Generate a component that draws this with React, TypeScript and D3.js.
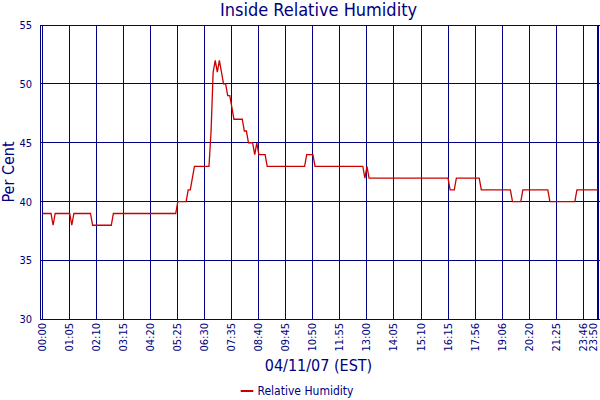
import * as d3 from "d3";

// relative humidity samples, one per logged reading (04/11/07)
const humidity: number[] = [
  39, 39, 39, 39, 39, 38, 39, 39, 39, 39, 39, 39, 39,
  39, 38, 39, 39, 39, 39, 39, 39, 39, 39, 39, 38, 38,
  38, 38, 38, 38, 38, 38, 38, 38, 39, 39, 39, 39, 39,
  39, 39, 39, 39, 39, 39, 39, 39, 39, 39, 39, 39, 39,
  39, 39, 39, 39, 39, 39, 39, 39, 39, 39, 39, 39, 39,
  40, 40, 40, 40, 40, 41, 41, 42, 43, 43, 43, 43, 43,
  43, 43, 43, 46, 51, 52, 51, 52, 51, 50, 50, 49, 49,
  48, 47, 47, 47, 47, 47, 46, 46, 45, 45, 45, 44, 45,
  44, 44, 44, 44, 43, 43, 43, 43, 43, 43, 43, 43, 43,
  43, 43, 43, 43, 43, 43, 43, 43, 43, 43, 44, 44, 44,
  44, 43, 43, 43, 43, 43, 43, 43, 43, 43, 43, 43, 43,
  43, 43, 43, 43, 43, 43, 43, 43, 43, 43, 43, 43, 42,
  43, 42, 42, 42, 42, 42, 42, 42, 42, 42, 42, 42, 42,
  42, 42, 42, 42, 42, 42, 42, 42, 42, 42, 42, 42, 42,
  42, 42, 42, 42, 42, 42, 42, 42, 42, 42, 42, 42, 42,
  42, 41, 41, 41, 42, 42, 42, 42, 42, 42, 42, 42, 42,
  42, 42, 42, 41, 41, 41, 41, 41, 41, 41, 41, 41, 41,
  41, 41, 41, 41, 41, 40, 40, 40, 40, 40, 41, 41, 41,
  41, 41, 41, 41, 41, 41, 41, 41, 41, 41, 40, 40, 40,
  40, 40, 40, 40, 40, 40, 40, 40, 40, 40, 41, 41, 41,
  41, 41, 41, 41, 41, 41, 41, 41,
];

const tickLabels = [
  "00:00", "01:05", "02:10", "03:15", "04:20", "05:25", "06:30", "07:35",
  "08:40", "09:45", "10:50", "11:55", "13:00", "14:05", "15:10", "16:15",
  "17:56", "19:06", "20:20", "21:25", "23:46", "23:50",
];
const tickIndex = [
  0, 13, 26, 39, 52, 65, 78, 91, 104, 117, 130, 143, 156, 169, 182, 195,
  208, 221, 234, 247, 260, 267,
];
const yTicks = [30, 35, 40, 45, 50, 55];

const W = 600;
const H = 400;
const NAVY = "#000080";
const RED = "#cc0000";
const FONT = "'DejaVu Sans Condensed', 'Liberation Sans', sans-serif";

// snap 1px lines onto the pixel grid
const px = (v: number) => Math.round(v) + 0.5;

export default function App() {
  const left = 40.5;
  const right = 598.5;
  const top = 25;
  const bottom = 319.5;

  const x = d3.scaleLinear().domain([0, humidity.length - 1]).range([42.7, 597.7]);
  const y = d3.scaleLinear().domain([30, 55]).range([bottom, top]);

  const line = d3
    .line<number>()
    .x((_, i) => x(i))
    .y((d) => y(d));

  return (
    <div style={{ position: "absolute", left: 0, top: 0 }}>
      <svg width={W} height={H} style={{ display: "block", background: "#fff" }}>
        <text
          x={318.5}
          y={16}
          textAnchor="middle"
          style={{ font: `18px ${FONT}`, fill: NAVY }}
        >
          Inside Relative Humidity
        </text>

        {/* grid */}
        <g shapeRendering="crispEdges" stroke={NAVY} strokeWidth={1}>
          {yTicks.map((t) => (
            <line key={"h" + t} x1={left} x2={right + 1} y1={px(y(t) - 0.5)} y2={px(y(t) - 0.5)} />
          ))}
          {tickIndex.map((t) => (
            <line key={"v" + t} x1={px(x(t) - 0.5)} x2={px(x(t) - 0.5)} y1={top} y2={bottom} />
          ))}
          <line x1={left} x2={left} y1={top} y2={bottom} />
          <line x1={right} x2={right} y1={top} y2={bottom} />
        </g>

        {/* y labels */}
        {yTicks.map((t) => (
          <text
            key={"yl" + t}
            x={32}
            y={y(t)}
            dy="0.35em"
            textAnchor="end"
            style={{ font: `11px ${FONT}`, fill: NAVY }}
          >
            {t}
          </text>
        ))}
        <text
          transform="translate(14,172) rotate(-90)"
          textAnchor="middle"
          style={{ font: `16px ${FONT}`, fill: NAVY }}
        >
          Per Cent
        </text>

        {/* x labels */}
        {tickIndex.map((t, i) => (
          <text
            key={"xl" + t}
            transform={`translate(${Math.min(x(t) + 3.5, 596.5)},323) rotate(-90)`}
            textAnchor="end"
            style={{ font: `11px ${FONT}`, fill: NAVY }}
          >
            {tickLabels[i]}
          </text>
        ))}
        <text
          x={318.5}
          y={370.5}
          textAnchor="middle"
          style={{ font: `16px ${FONT}`, fill: NAVY }}
        >
          04/11/07 (EST)
        </text>

        {/* series */}
        <path d={line(humidity) ?? ""} fill="none" stroke={RED} strokeWidth={1.3} strokeLinejoin="miter" />

        {/* legend */}
        <line x1={240.7} x2={253.3} y1={391} y2={391} stroke={RED} strokeWidth={2} />
        <text x={257.5} y={395} style={{ font: `12px ${FONT}`, fill: NAVY }}>
          Relative Humidity
        </text>
      </svg>
    </div>
  );
}
